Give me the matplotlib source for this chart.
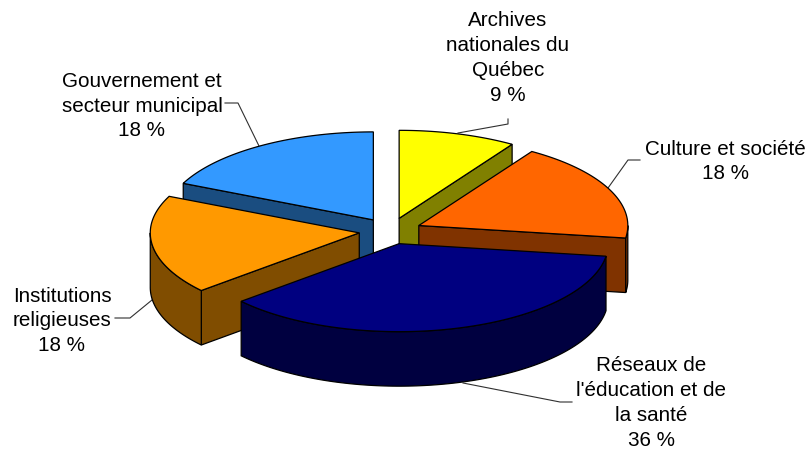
import matplotlib
matplotlib.use('Agg')
import matplotlib.pyplot as plt
from matplotlib.patches import Polygon
import numpy as np

plt.rcParams['font.family'] = ['Liberation Sans', 'DejaVu Sans']

# chart data, clockwise from the top
categories = ['Archives\nnationales du\nQuébec', 'Culture et société', 'Réseaux de\nl\'éducation et de\nla santé',
              'Institutions\nreligieuses', 'Gouvernement et\nsecteur municipal']
values = [9, 18, 36, 18, 18]

top_colors = ['#FFFF00', '#FF6600', '#000080', '#FF9900', '#3399FF']
side_colors = ['#808000', '#803300', '#000040', '#804D00', '#1A4D80']

# pie geometry in figure pixels
center_x = 390.3
center_y = 231
radius_x = 209
radius_y = 88
depth = 54.5
explode = 0.15

# back slices first so the front ones paint over them
draw_order = [0, 4, 1, 3, 2]

label_pos = [(508, 58), (725, 161.5), (651, 403), (62, 321), (142, 106)]
leaders = [
    [(458, 133), (508, 124), (508, 119)],
    [(608, 188), (628, 160), (640, 160)],
    [(463, 383), (560, 402), (572, 402)],
    [(152, 300), (130, 318), (115, 318)],
    [(259, 146), (238, 103), (225, 103)],
]

fractions = np.array(values) / sum(values)
ends = np.cumsum(fractions) * 2 * np.pi
starts = ends - fractions * 2 * np.pi

fig = plt.figure(figsize=(8.07, 4.49), dpi=100)
ax = fig.add_axes([0, 0, 1, 1])
ax.set_xlim(0, 807)
ax.set_ylim(449, 0)
ax.axis('off')

for line in leaders:
    xs, ys = zip(*line)
    ax.plot(xs, ys, color='#303030', lw=0.8, zorder=1)

z = 2
for i in draw_order:
    mid = (starts[i] + ends[i]) / 2
    apex_x = center_x + explode * radius_x * np.sin(mid)
    apex_y = center_y - explode * radius_y * np.cos(mid)

    angles = np.linspace(starts[i], ends[i], 120)
    arc_x = apex_x + radius_x * np.sin(angles)
    arc_y = apex_y - radius_y * np.cos(angles)

    # radial walls, only those that face the viewer
    visible_walls = []
    if starts[i] >= np.pi:
        visible_walls.append(0)
    if ends[i] <= np.pi:
        visible_walls.append(-1)
    for k in visible_walls:
        wall = [(apex_x, apex_y), (arc_x[k], arc_y[k]), (arc_x[k], arc_y[k] + depth), (apex_x, apex_y + depth)]
        ax.add_patch(Polygon(wall, closed=True, fc=side_colors[i], ec='black', lw=0.9, zorder=z))
        z += 1

    # only the front half of the rim can be seen
    rim_from = max(starts[i], np.pi / 2)
    rim_to = min(ends[i], 3 * np.pi / 2)
    if rim_from < rim_to:
        rim_angles = np.linspace(rim_from, rim_to, 120)
        rim_x = apex_x + radius_x * np.sin(rim_angles)
        rim_y = apex_y - radius_y * np.cos(rim_angles)
        rim = list(zip(rim_x, rim_y)) + list(zip(rim_x[::-1], rim_y[::-1] + depth))
        ax.add_patch(Polygon(rim, closed=True, fc=side_colors[i], ec='black', lw=0.9, zorder=z))
        z += 1

    top = [(apex_x, apex_y)] + list(zip(arc_x, arc_y))
    ax.add_patch(Polygon(top, closed=True, fc=top_colors[i], ec='black', lw=0.9, zorder=z))
    z += 1

for name, value, pos in zip(categories, values, label_pos):
    ax.text(pos[0], pos[1], f'{name}\n{value} %', ha='center', va='center', fontsize=14.85,
            linespacing=1.38, color='black', zorder=z)

plt.savefig('out.png', dpi=100)
